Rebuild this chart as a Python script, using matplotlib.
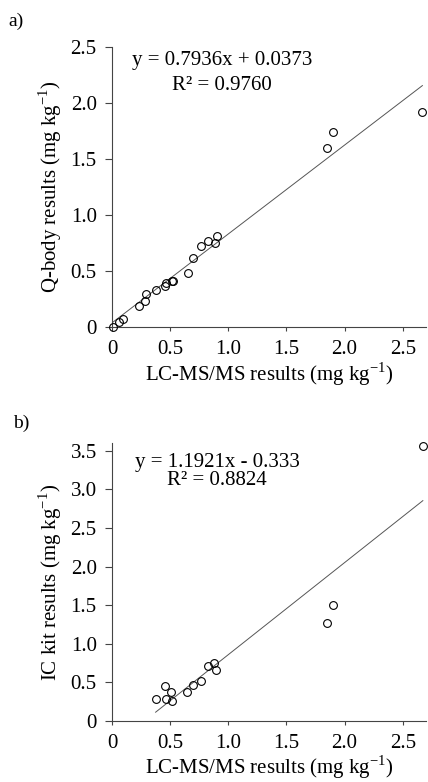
import numpy as np
import matplotlib
matplotlib.use("Agg")
import matplotlib.pyplot as plt

plt.rcParams['font.family'] = ['Liberation Serif', 'DejaVu Serif']

# panel a) Q-body vs LC-MS/MS
qbody_x = [0.006, 0.063, 0.097, 0.232, 0.286, 0.289, 0.375, 0.455, 0.464, 0.513,
           0.521, 0.650, 0.699, 0.765, 0.825, 0.885, 0.899, 1.847, 1.899, 2.669]
qbody_y = [0.000, 0.048, 0.068, 0.190, 0.229, 0.295, 0.330, 0.369, 0.390, 0.410,
           0.410, 0.479, 0.619, 0.720, 0.771, 0.750, 0.813, 1.595, 1.741, 1.922]
qbody_fit = (0.7936, 0.0373)
qbody_eq = ["y = 0.7936x + 0.0373", "R² = 0.9760"]

# panel b) IC kit vs LC-MS/MS
ickit_x = [0.375, 0.458, 0.461, 0.505, 0.519, 0.649, 0.698, 0.764, 0.825, 0.879,
           0.894, 1.845, 1.897, 2.673]
ickit_y = [0.281, 0.454, 0.281, 0.376, 0.259, 0.376, 0.462, 0.523, 0.713, 0.756,
           0.661, 1.275, 1.500, 3.565]
ickit_fit = (1.1921, -0.333)
ickit_eq = ["y = 1.1921x - 0.333", "R² = 0.8824"]

x_ticks = [0, 0.5, 1.0, 1.5, 2.0, 2.5]
x_labels = ["0", "0.5", "1.0", "1.5", "2.0", "2.5"]
ya_ticks = [0, 0.5, 1.0, 1.5, 2.0, 2.5]
ya_labels = ["0", "0.5", "1.0", "1.5", "2.0", "2.5"]
yb_ticks = [0, 0.5, 1.0, 1.5, 2.0, 2.5, 3.0, 3.5]
yb_labels = ["0", "0.5", "1.0", "1.5", "2.0", "2.5", "3.0", "3.5"]

xlabel = "LC-MS/MS results (mg kg$^{\\mathregular{-1}}$)"
FS = 15

fig = plt.figure(figsize=(4.28, 7.82), dpi=100)
ax_a = fig.add_axes([0.2617, 0.5818, 0.7336, 0.3581])
ax_b = fig.add_axes([0.2617, 0.0780, 0.7336, 0.3555])


def panel(ax, xs, ys, fit, eq, yticks, ylabels, ymax, ylabel, eq_pos, line_from_zero):
    ax.plot(xs, ys, 'o', ms=5.6, mfc='none', mec='black', mew=0.8, clip_on=False, zorder=3)
    x0 = 0.0 if line_from_zero else min(xs)
    lx = np.array([x0, max(xs)])
    ax.plot(lx, fit[0] * lx + fit[1], color='#555555', lw=0.7, zorder=2)
    ax.set_xlim(0, 2.7)
    ax.set_ylim(0, ymax)
    ax.set_xticks(x_ticks)
    ax.set_xticklabels(x_labels)
    ax.set_yticks(yticks)
    ax.set_yticklabels(ylabels)
    for s in ['top', 'right']:
        ax.spines[s].set_visible(False)
    for s in ['left', 'bottom']:
        ax.spines[s].set_color('#444444')
        ax.spines[s].set_linewidth(0.8)
    ax.tick_params(axis='y', direction='out', length=5, width=0.8, color='#444444',
                   labelsize=FS, pad=6)
    ax.tick_params(axis='x', direction='out', length=3, width=0.8, color='#444444',
                   labelsize=FS, pad=6)
    ax.set_xlabel(xlabel, fontsize=FS, labelpad=1)
    ax.set_ylabel(ylabel, fontsize=FS, labelpad=5)
    ax.text(eq_pos[0], eq_pos[1], eq[0], ha='center', va='center', fontsize=FS)
    ax.text(eq_pos[0], eq_pos[2], eq[1], ha='center', va='center', fontsize=FS)


panel(ax_a, qbody_x, qbody_y, qbody_fit, qbody_eq, ya_ticks, ya_labels, 2.5,
      "Q-body results (mg kg$^{\\mathregular{-1}}$)", (0.945, 2.38, 2.16), True)
panel(ax_b, ickit_x, ickit_y, ickit_fit, ickit_eq, yb_ticks, yb_labels, 3.6,
      "IC kit results (mg kg$^{\\mathregular{-1}}$)", (0.906, 3.35, 3.11), False)

fig.text(8 / 428, 1 - 21 / 782, "a)", fontsize=FS - 1, ha='left', va='center')
fig.text(13 / 428, 1 - 423 / 782, "b)", fontsize=FS - 1, ha='left', va='center')

fig.savefig("out.png", dpi=100)
